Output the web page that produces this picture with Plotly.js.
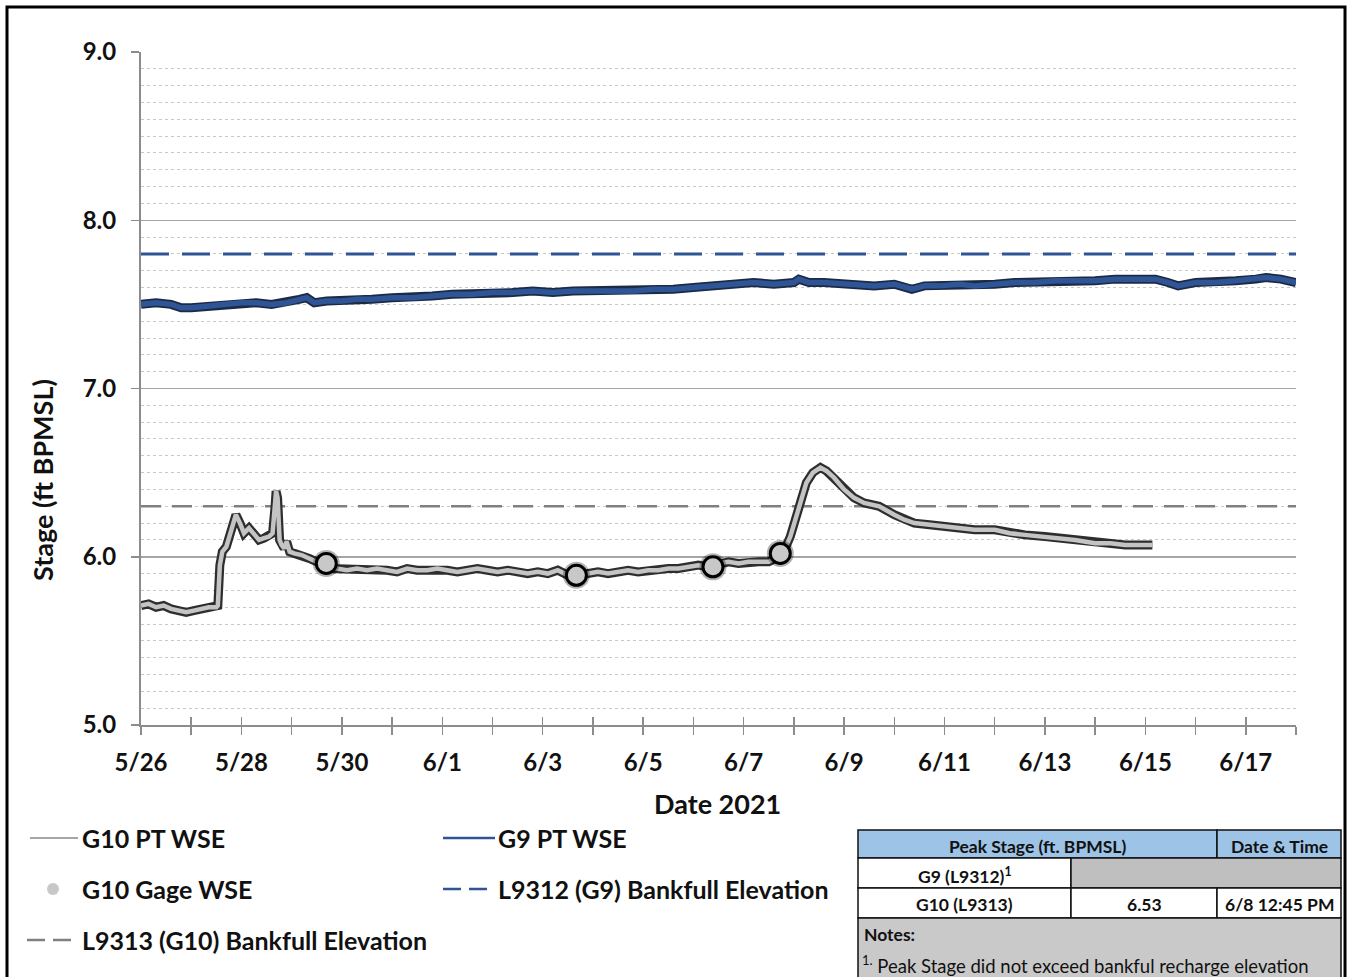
<!DOCTYPE html>
<html>
<head>
<meta charset="utf-8">
<script src="https://cdn.plot.ly/plotly-3.0.1.min.js"></script>
<style>
html,body{margin:0;padding:0;background:#fff;}
#chart{width:1352px;height:977px;}
</style>
</head>
<body>
<div id="chart"></div>
<script>
// ---- DATA (x = days since 5/26/2021 00:00) ----
const tickDays   = [0, 2, 4, 6, 8, 10, 12, 14, 16, 18, 20, 22];
const tickLabels = ['5/26','5/28','5/30','6/1','6/3','6/5','6/7','6/9','6/11','6/13','6/15','6/17'];

const g10Days = [0.00,0.15,0.30,0.45,0.60,0.75,0.90,1.05,1.20,1.35,1.50,1.53,1.57,1.62,1.70,1.80,1.89,1.97,2.05,2.15,2.25,2.35,2.45,2.55,2.62,2.67,2.69,2.72,2.76,2.80,2.85,2.90,2.96,3.05,3.20,3.35,3.50,3.65,3.75,3.90,4.10,4.30,4.50,4.70,4.90,5.10,5.30,5.50,5.70,5.90,6.10,6.30,6.50,6.70,6.90,7.10,7.30,7.50,7.70,7.90,8.10,8.30,8.50,8.70,8.90,9.10,9.30,9.50,9.70,9.90,10.10,10.30,10.50,10.70,10.90,11.10,11.30,11.50,11.70,11.90,12.10,12.30,12.50,12.70,12.80,12.93,13.13,13.25,13.38,13.53,13.65,13.80,14.00,14.20,14.40,14.70,15.00,15.20,15.40,15.70,16.00,16.30,16.60,17.00,17.30,17.60,18.00,18.30,18.60,19.00,19.30,19.60,20.00,20.14];
const g10Stage = [5.71,5.72,5.70,5.71,5.69,5.68,5.67,5.68,5.69,5.70,5.70,5.71,5.95,6.03,6.06,6.15,6.25,6.20,6.14,6.17,6.13,6.10,6.11,6.12,6.14,6.30,6.39,6.35,6.10,6.07,6.05,6.09,6.03,6.02,6.01,5.99,5.97,5.96,5.93,5.93,5.92,5.93,5.92,5.93,5.92,5.91,5.93,5.92,5.92,5.93,5.92,5.91,5.92,5.93,5.92,5.91,5.92,5.91,5.90,5.91,5.90,5.92,5.89,5.89,5.90,5.91,5.90,5.91,5.92,5.91,5.92,5.92,5.93,5.93,5.94,5.95,5.94,5.96,5.97,5.96,5.97,5.97,5.97,6.00,6.03,6.12,6.32,6.44,6.50,6.53,6.51,6.47,6.40,6.35,6.32,6.30,6.25,6.22,6.20,6.19,6.18,6.17,6.16,6.16,6.14,6.13,6.12,6.11,6.10,6.08,6.08,6.07,6.07,6.07];

const gageDays  = [3.69, 8.67, 11.39, 12.73];
const gageStage = [5.96, 5.89, 5.94, 6.02];

const g9Days = [0,0.3,0.6,0.8,1.0,1.3,1.6,2.0,2.3,2.6,2.9,3.15,3.3,3.45,3.7,4.0,4.3,4.6,5.0,5.4,5.8,6.2,6.6,7.0,7.4,7.8,8.2,8.6,9.0,9.4,9.8,10.2,10.6,11.0,11.4,11.8,12.2,12.6,13.0,13.1,13.3,13.6,14.0,14.3,14.6,15.0,15.35,15.6,15.9,16.3,16.6,17.0,17.4,17.8,18.2,18.6,19.0,19.4,19.8,20.2,20.45,20.65,21.0,21.4,21.8,22.2,22.4,22.7,23.0];
const g9Stage = [7.50,7.51,7.50,7.48,7.48,7.49,7.50,7.51,7.51,7.50,7.51,7.53,7.54,7.51,7.52,7.52,7.53,7.53,7.54,7.54,7.55,7.56,7.56,7.57,7.57,7.58,7.57,7.58,7.58,7.58,7.58,7.59,7.59,7.60,7.61,7.62,7.63,7.62,7.63,7.65,7.63,7.63,7.62,7.61,7.61,7.62,7.59,7.61,7.61,7.62,7.61,7.62,7.63,7.63,7.64,7.64,7.64,7.65,7.65,7.65,7.63,7.61,7.63,7.63,7.64,7.65,7.66,7.65,7.63];

const bankfullDays = [0, 23];
const g9Bankfull   = [7.80, 7.80];
const g10Bankfull  = [6.30, 6.30];

const xTitle = 'Date 2021';
const yTitle = 'Stage (ft BPMSL)';
const legendLabels = ['G10 PT WSE','G9 PT WSE','G10 Gage WSE','L9312 (G9) Bankfull Elevation','L9313 (G10) Bankfull Elevation'];
const tableHeader = ['Peak Stage (ft. BPMSL)','Date & Time'];
const tableRows = [['G9 (L9312)<sup>1</sup>','',''],['G10 (L9313)','6.53','6/8 12:45 PM']];
const tableNoteTitle = 'Notes:';
const tableNote = '<sup>1.</sup> Peak Stage did not exceed bankful recharge elevation';

// ---- LAYOUT helpers (pixel -> paper) ----
const L = 141, R = 1296, T = 52, B = 725;
const px = x => (x - L) / (R - L);
const py = y => (B - y) / (B - T);

const FONT = 'Lato, "Open Sans", sans-serif';
const BLUE = '#2f5597';

const traces = [
  {x: bankfullDays, y: g10Bankfull, mode:'lines', line:{color:'#808080', width:2.5, dash:'20px,11px'}, hoverinfo:'skip'},
  {x: bankfullDays, y: g9Bankfull, mode:'lines', line:{color:BLUE, width:3, dash:'28px,13px'}, hoverinfo:'skip'},
  {x: g9Days, y: g9Stage, mode:'lines', line:{color:'#1c2b45', width:9}, hoverinfo:'skip'},
  {x: g9Days, y: g9Stage, mode:'lines', line:{color:BLUE, width:5.5}, name:legendLabels[1]},
  {x: g10Days, y: g10Stage, mode:'lines', line:{color:'#2e2e2e', width:9}, hoverinfo:'skip'},
  {x: g10Days, y: g10Stage, mode:'lines', line:{color:'#c4c4c4', width:4.5}, name:legendLabels[0]},
  {x: gageDays, y: gageStage, mode:'markers', marker:{size:27, color:'rgba(0,0,0,0.3)'}, hoverinfo:'skip'},
  {x: gageDays, y: gageStage, mode:'markers', marker:{size:20, color:'#c8c8c8', line:{color:'#000', width:3}}, name:legendLabels[2]},
  {x: [null], y: [null], xaxis:'x2', mode:'lines', hoverinfo:'skip'}
];

const shapes = [];
const annotations = [];

// outer frame
shapes.push({type:'rect', xref:'paper', yref:'paper', x0:px(7), x1:px(1345), y0:py(7), y1:py(995), line:{color:'#000', width:3}, fillcolor:'rgba(0,0,0,0)', layer:'below'});

// axis titles
annotations.push({xref:'paper', yref:'paper', x:px(717), y:py(803), text:'<b>'+xTitle+'</b>', showarrow:false, xanchor:'center', yanchor:'middle', font:{family:FONT, size:27, color:'#111'}});
annotations.push({xref:'paper', yref:'paper', x:px(42), y:py(480), text:'<b>'+yTitle+'</b>', textangle:-90, showarrow:false, xanchor:'center', yanchor:'middle', font:{family:FONT, size:27, color:'#111'}});

// legend
function legLine(x0, x1, y, color, width, dash){
  shapes.push({type:'line', xref:'paper', yref:'paper', x0:px(x0), x1:px(x1), y0:py(y), y1:py(y), line:{color, width, dash}});
}
function legText(x, y, text){
  annotations.push({xref:'paper', yref:'paper', x:px(x), y:py(y), text, showarrow:false, xanchor:'left', yanchor:'middle', font:{family:FONT, size:25, color:'#111'}});
}
legLine(30, 78, 838, '#a6a6a6', 2, 'solid');  legText(80, 838, '<b>'+legendLabels[0]+'</b>');
legLine(443, 495, 838, BLUE, 2.5, 'solid');   legText(496, 838, '<b>'+legendLabels[1]+'</b>');
shapes.push({type:'circle', xref:'paper', yref:'paper', x0:px(47), x1:px(59), y0:py(883), y1:py(895), fillcolor:'#c8c8c8', line:{width:0}});
legText(80, 889, '<b>'+legendLabels[2]+'</b>');
legLine(443, 495, 889, BLUE, 2.5, '18px,8px'); legText(496, 889, '<b>'+legendLabels[3]+'</b>');
legLine(27, 78, 940, '#808080', 2.5, '18px,8px'); legText(80, 940, '<b>'+legendLabels[4]+'</b>');

// table
function cell(x0, x1, y0, y1, fill){
  shapes.push({type:'rect', xref:'paper', yref:'paper', x0:px(x0), x1:px(x1), y0:py(y0), y1:py(y1), fillcolor:fill, line:{color:'#111', width:1.5}});
}
function cellText(x, y, text, anchor, size, bold){
  annotations.push({xref:'paper', yref:'paper', x:px(x), y:py(y), text: bold ? '<b>'+text+'</b>' : text, showarrow:false, xanchor:anchor||'center', yanchor:'middle', font:{family:FONT, size:size||16, color:'#111'}});
}
const c0=858, c1=1071, c2=1217, c3=1341;
const r0=830, r1=858, r2=888, r3=918, r4=995;
cell(c0, c2, r0, r1, '#9dc3e6'); cell(c2, c3, r0, r1, '#9dc3e6');
cell(c0, c1, r1, r2, '#ffffff'); cell(c1, c3, r1, r2, '#bfbfbf');
cell(c0, c1, r2, r3, '#ffffff'); cell(c1, c2, r2, r3, '#ffffff'); cell(c2, c3, r2, r3, '#ffffff');
cell(c0, c3, r3, r4, '#c9c9c9');
cellText((c0+c2)/2, 846, tableHeader[0], 'center', 17.5, true);
cellText((c2+c3)/2, 846, tableHeader[1], 'center', 17.5, true);
cellText((c0+c1)/2, 875, tableRows[0][0], 'center', 17.5, true);
cellText((c0+c1)/2, 904, tableRows[1][0], 'center', 17.5, true);
cellText((c1+c2)/2, 904, tableRows[1][1], 'center', 17.5, true);
cellText((c2+c3)/2, 904, tableRows[1][2], 'center', 17.5, true);
cellText(862, 934, tableNoteTitle, 'left', 17.5, true);
cellText(860, 964, tableNote, 'left', 18.5, false);

const layout = {
  width:1352, height:977,
  margin:{l:L, r:1352-R, t:T, b:977-B, pad:0},
  paper_bgcolor:'#fff', plot_bgcolor:'#fff',
  showlegend:false,
  font:{family:FONT, color:'#111'},
  xaxis:{
    range:[0,23], tickmode:'array', tickvals:tickDays, ticktext:tickLabels,
    ticks:'outside', ticklen:8, tickwidth:1.5, tickcolor:'#8c8c8c',
    showline:true, linecolor:'#8c8c8c', linewidth:2, showgrid:false, zeroline:false,
    minor:{tickmode:'linear', tick0:1, dtick:1, ticks:'outside', ticklen:8, tickwidth:1.5, tickcolor:'#8c8c8c', showgrid:false},
    tickfont:{family:FONT, size:24, color:'#111', weight:'bold'},
    ticklabelstandoff:7,
    fixedrange:true
  },
  xaxis2:{
    overlaying:'x', range:[0,23], tickmode:'linear', tick0:0, dtick:1, ticks:'inside', ticklen:8, tickwidth:1.5, tickcolor:'#8c8c8c',
    showticklabels:false, showline:false, showgrid:false, zeroline:false, side:'bottom', anchor:'y'
  },
  yaxis:{
    range:[5,9], dtick:1, tick0:5, tickformat:'.1f',
    ticks:'outside', ticklen:8, tickwidth:1.5, tickcolor:'#8c8c8c',
    showline:true, linecolor:'#8c8c8c', linewidth:2,
    showgrid:true, gridcolor:'#a6a6a6', gridwidth:1.5, zeroline:false,
    minor:{dtick:0.1, tick0:5, showgrid:true, gridcolor:'#c8c8c8', gridwidth:1, griddash:'dot', ticks:''},
    tickfont:{family:FONT, size:24, color:'#111', weight:'bold'},
    ticklabelstandoff:10,
    fixedrange:true
  },
  shapes, annotations
};

Plotly.newPlot('chart', traces, layout, {displayModeBar:false, staticPlot:true});
</script>
</body>
</html>
